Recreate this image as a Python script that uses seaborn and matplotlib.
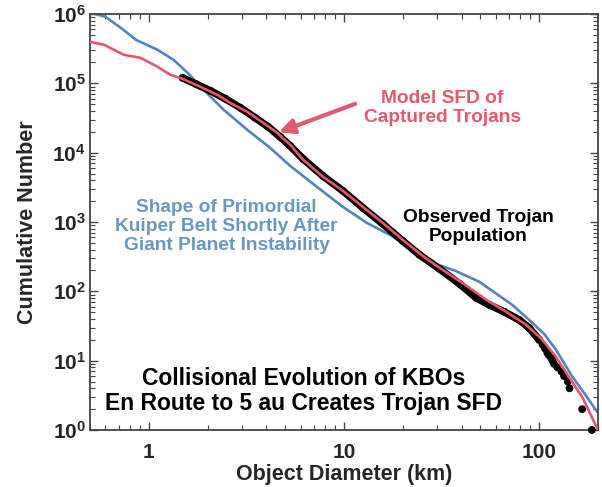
import numpy as np
import pandas as pd
import matplotlib
matplotlib.use("Agg")
import matplotlib.pyplot as plt
from matplotlib.font_manager import FontProperties
import seaborn as sns

# ---------------- data ----------------
# Blue: shape of primordial Kuiper belt shortly after giant planet instability
blue_diam = [0.5, 0.60, 0.72, 0.86, 1.11, 1.34, 1.58, 1.91, 2.42, 3.2, 4.19, 5.3,
             7.28, 9.88, 13.1, 17.2, 21.7, 28.5, 37.3, 49.4, 72.8, 88.9, 106,
             122, 147, 174, 198]
blue_cum = [1.05e6, 9.1e5, 6.3e5, 4.24e5, 3.04e5, 2.18e5, 1.42e5, 8.06e4, 4.15e4,
            2.13e4, 1.17e4, 6.45e3, 3.2e3, 1.65e3, 970, 651, 438, 257, 197, 137,
            63.7, 38.6, 24.3, 14.3, 6.0, 3.1, 1.82]

# Red: model SFD of captured Trojans
red_diam = [0.5, 0.59, 0.745, 0.91, 1.11, 1.29, 1.49, 1.84, 2.25, 2.62, 3.2, 3.86,
            4.55, 5.3, 6.18, 7.81, 9.88, 12.5, 15.8, 20.0, 25.3, 30.9, 40.5, 53.7,
            67.9, 85.9, 104, 122, 142, 166, 200]
red_cum = [3.97e5, 3.6e5, 2.58e5, 2.33e5, 1.73e5, 1.33e5, 1.16e5, 8.9e4, 6.8e4,
           5.2e4, 3.88e4, 2.69e4, 1.93e4, 1.3e4, 7.9e3, 4.48e3, 2.81e3, 1.65e3,
           970, 552, 324, 218, 132, 75.2, 50.5, 32.8, 19.9, 11.3, 5.8, 3.0, 1.0]

# Black: observed Trojan population (dense part)
obs_diam = [1.49, 1.74, 2.07, 2.47, 2.95, 3.51, 4.09, 4.71, 5.3, 6.18, 7.81, 9.88,
            12.5, 15.8, 20.0, 24.4, 30.9, 39.1, 47.7, 55.6, 66.3, 79.1, 88.9, 100]
obs_cum = [1.2e5, 9.8e4, 7.8e4, 5.98e4, 4.43e4, 3.18e4, 2.36e4, 1.69e4, 1.25e4,
           8.1e3, 4.6e3, 2.81e3, 1.6e3, 940, 533, 335, 210, 128, 80, 63.7, 50.5,
           38.6, 29.6, 19.9]
# Black: largest observed Trojans (individual dots)
tail_diam = [104, 107, 110, 112, 115, 117, 119, 124, 130, 134, 140, 143, 166, 186]
tail_cum = [17, 15, 13, 12, 11, 10, 9, 8, 7, 6, 5, 4, 2, 1]

xtick_vals = [1, 10, 100]
xtick_labels = ["1", "10", "100"]
ytick_vals = [1, 10, 100, 1e3, 1e4, 1e5, 1e6]
ytick_labels = [r"$10^{0}$", r"$10^{1}$", r"$10^{2}$", r"$10^{3}$",
                r"$10^{4}$", r"$10^{5}$", r"$10^{6}$"]

# ---------------- style ----------------
sns.set_theme(style="ticks")
plt.rcParams["font.family"] = ["Liberation Sans", "DejaVu Sans"]
plt.rcParams["font.weight"] = "bold"
plt.rcParams["axes.labelweight"] = "bold"
plt.rcParams["mathtext.fontset"] = "custom"
plt.rcParams["mathtext.rm"] = "Liberation Sans:bold"
plt.rcParams["mathtext.it"] = "Liberation Sans:bold"
plt.rcParams["mathtext.bf"] = "Liberation Sans:bold"
plt.rcParams["mathtext.default"] = "rm"

BLUE = "#4f86bd"
BLUE_TXT = "#6a96c6"
RED = "#e8566c"
RED_TXT = "#e25a6e"
SPINE = "#444444"

label_fp = FontProperties(family="Liberation Sans", weight="bold", size=15.5)

fig = plt.figure(figsize=(6.02, 4.87), dpi=100)
ax = fig.add_axes([90 / 602, 1 - 430 / 487, 508 / 602, 416 / 487])

blue_df = pd.DataFrame({"d": blue_diam, "n": blue_cum})
red_df = pd.DataFrame({"d": red_diam, "n": red_cum})
obs_df = pd.DataFrame({"d": obs_diam, "n": obs_cum})
tail_df = pd.DataFrame({"d": tail_diam, "n": tail_cum})

sns.lineplot(data=blue_df, x="d", y="n", ax=ax, color=BLUE, lw=1.9,
             sort=False, estimator=None, zorder=2)
sns.lineplot(data=obs_df, x="d", y="n", ax=ax, color="black", lw=5.4,
             sort=False, estimator=None, zorder=3)
sns.scatterplot(data=obs_df, x="d", y="n", ax=ax, color="black", s=32,
                edgecolor="none", zorder=3)
sns.scatterplot(data=tail_df, x="d", y="n", ax=ax, color="black", s=32,
                edgecolor="none", zorder=3, clip_on=False)
sns.lineplot(data=red_df, x="d", y="n", ax=ax, color=RED, lw=1.9,
             sort=False, estimator=None, zorder=4)

ax.set_xscale("log")
ax.set_yscale("log")
ax.set_xlim(0.5, 200)
ax.set_ylim(1, 1e6)

ax.set_xticks(xtick_vals)
ax.set_xticklabels(xtick_labels)
ax.set_yticks(ytick_vals)
ax.set_yticklabels(ytick_labels)
ax.xaxis.set_minor_locator(matplotlib.ticker.LogLocator(base=10, subs=np.arange(2, 10)))
ax.yaxis.set_minor_locator(matplotlib.ticker.LogLocator(base=10, subs=np.arange(2, 10), numticks=20))
ax.xaxis.set_minor_formatter(matplotlib.ticker.NullFormatter())
ax.yaxis.set_minor_formatter(matplotlib.ticker.NullFormatter())

ax.tick_params(which="both", direction="in", top=True, right=True, color=SPINE)
ax.tick_params(which="major", length=6, width=1.0)
ax.tick_params(which="minor", length=3.5, width=0.8)
ax.tick_params(axis="x", which="major", pad=9, labelsize=15)
ax.tick_params(axis="y", which="major", pad=3, labelsize=15)
for lab in ax.get_xticklabels():
    lab.set_fontweight("bold")
for sp in ax.spines.values():
    sp.set_color(SPINE)
    sp.set_linewidth(1.3)

ax.set_xlabel("Object Diameter (km)", fontproperties=label_fp)
ax.set_ylabel("Cumulative Number", fontproperties=label_fp)
ax.xaxis.set_label_coords(0.5, -0.082)
ax.yaxis.set_label_coords(-0.103, 0.5)

# ---------------- annotations ----------------
ax.text(0.693, 0.773, "Model SFD of\nCaptured Trojans", transform=ax.transAxes,
        ha="center", va="center", color=RED_TXT, fontsize=13.8,
        fontweight="bold", linespacing=1.15)
ax.annotate("", xy=(0.372, 0.716), xytext=(0.522, 0.784),
            xycoords="axes fraction", textcoords="axes fraction",
            arrowprops=dict(arrowstyle="-|>", color=RED_TXT, lw=3,
                            mutation_scale=22, shrinkA=0, shrinkB=0))
ax.text(0.269, 0.489, "Shape of Primordial\nKuiper Belt Shortly After\nGiant Planet Instability",
        transform=ax.transAxes, ha="center", va="center", color=BLUE_TXT,
        fontsize=13.8, fontweight="bold", linespacing=1.15)
ax.text(0.765, 0.488, "Observed Trojan\nPopulation", transform=ax.transAxes,
        ha="center", va="center", color="black", fontsize=13.8,
        fontweight="bold", linespacing=1.15)
ax.text(0.421, 0.094, "Collisional Evolution of KBOs\nEn Route to 5 au Creates Trojan SFD",
        transform=ax.transAxes, ha="center", va="center", color="black",
        fontsize=16.5, fontweight="bold", linespacing=1.12)

fig.savefig("out.png", dpi=100)
